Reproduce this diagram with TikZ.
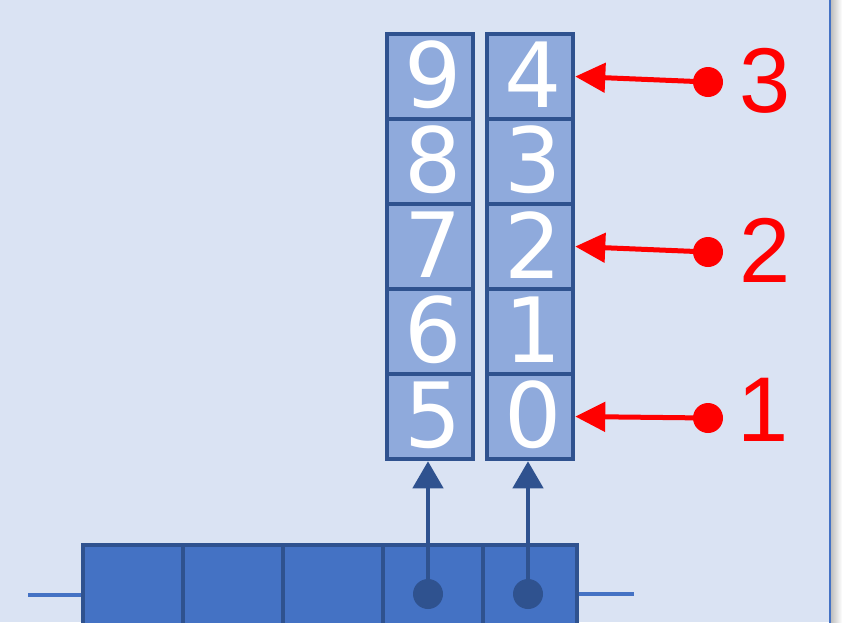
\documentclass[tikz,border=0pt]{standalone}
\usepackage{fontspec}
\usetikzlibrary{arrows.meta}
\newfontfamily\digitfont{DejaVu Sans}
\newfontfamily\labelfont{Liberation Sans}
\definecolor{paneBg}{HTML}{DAE3F3}
\definecolor{paneEdge}{HTML}{4472C4}
\definecolor{cellLight}{HTML}{8FAADC}
\definecolor{cellDark}{HTML}{4472C4}
\definecolor{cellLine}{HTML}{2F528F}
\tikzset{
  valcell/.style={draw=cellLine, fill=cellLight, line width=4.5pt, inner sep=0pt,
    minimum width=86pt, minimum height=85pt,
    label={[digit]center:#1}},
  digit/.style={text=white, inner sep=0pt, xshift=3pt, yshift=1.5pt,
    font=\digitfont\fontsize{90}{90}\selectfont},
  slotcell/.style={draw=cellLine, fill=cellDark, line width=4.5pt, inner sep=0pt,
    minimum height=110pt},
  ptrdot/.style={circle, fill=cellLine, inner sep=0pt, minimum size=30pt},
  ptrarrow/.style={draw=cellLine, line width=4.5pt, -{Triangle[length=27pt,width=30pt]}},
  reddot/.style={circle, fill=red, inner sep=0pt, minimum size=30pt},
  redarrow/.style={draw=red, line width=5pt, -{Triangle[length=30pt,width=29pt]}},
  redlabel/.style={text=red, inner sep=0pt, font=\labelfont\fontsize{92}{92}\selectfont},
  wire/.style={draw=paneEdge, line width=4pt},
}
\begin{document}
\begin{tikzpicture}[x=1pt, y=-1pt]
  \useasboundingbox (0,0) rectangle (842,622);
  \clip (0,0) rectangle (842,622);
  % pane background, its right edge and the shadow beyond it
  \fill[paneBg] (0,0) rectangle (830,622);
  \shade[left color=black!25, right color=white] (831,0) rectangle (842,622);
  \draw[paneEdge, line width=2.5pt] (830,-5) -- (830,630);

  % row of slots along the bottom
  \coordinate (wl) at (28,595);
  \coordinate (wr) at (634,594);
  \node[slotcell, minimum width=100pt] (s1) at (133,600) {};
  \node[slotcell, minimum width=100pt] (s2) at (233,600) {};
  \node[slotcell, minimum width=100pt] (s3) at (333,600) {};
  \node[slotcell, minimum width=100pt] (s4) at (433,600) {};
  \node[slotcell, minimum width=94pt] (s5) at (530,600) {};
  \draw[wire] (wl) -- (wl -| s1.west);
  \draw[wire] (wr -| s5.east) -- (wr);

  % two columns of values
  \node[valcell=9] (a9) at (430,76.5) {};
  \node[valcell=8] (a8) at (430,161.5) {};
  \node[valcell=7] (a7) at (430,246.5) {};
  \node[valcell=6] (a6) at (430,331.5) {};
  \node[valcell=5] (a5) at (430,416.5) {};
  \node[valcell=4] (b4) at (530,76.5) {};
  \node[valcell=3] (b3) at (530,161.5) {};
  \node[valcell=2] (b2) at (530,246.5) {};
  \node[valcell=1] (b1) at (530,331.5) {};
  \node[valcell=0] (b0) at (530,416.5) {};

  % pointers from the slots up to the columns
  \node[ptrdot] (p1) at (428,594) {};
  \node[ptrdot] (p2) at (528,594) {};
  \draw[ptrarrow] (p1.center) -- (p1.center |- a5.south);
  \draw[ptrarrow] (p2.center) -- (p2.center |- b0.south);

  % red markers on the right column
  \node[reddot] (m3) at (708,82) {};
  \node[reddot] (m2) at (708,252) {};
  \node[reddot] (m1) at (708,418) {};
  \draw[redarrow] (m3.center) -- (b4.east);
  \draw[redarrow] (m2.center) -- (b2.east);
  \draw[redarrow] (m1.center) -- (b0.east);
  \node[redlabel] (l3) at (765.5,81) {3};
  \node[redlabel] (l2) at (765,250) {2};
  \node[redlabel] (l1) at (763,410) {1};
\end{tikzpicture}
\end{document}
